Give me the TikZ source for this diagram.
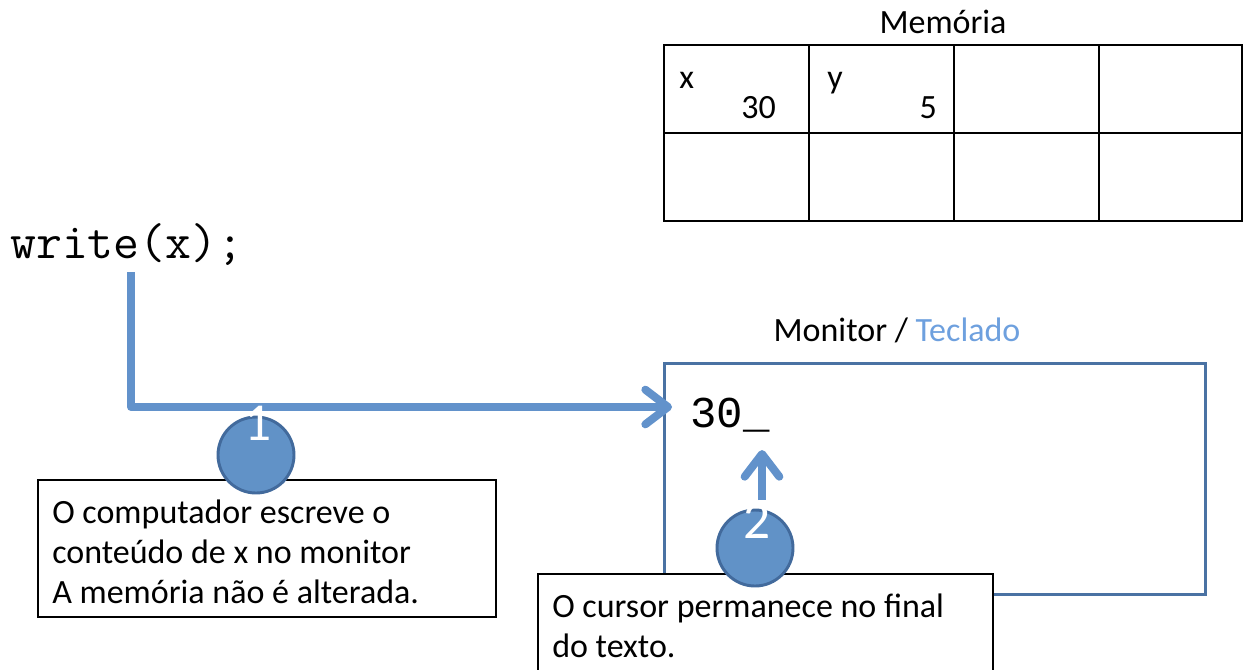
\documentclass[tikz,border=0pt]{standalone}
\usepackage{fontspec}
\setmainfont{Carlito}
\newfontfamily\codefont{Liberation Mono}
\usetikzlibrary{arrows.meta}
\definecolor{flowblue}{RGB}{98,146,203}
\definecolor{dotblue}{RGB}{97,146,199}
\definecolor{dotedge}{RGB}{66,106,156}
\definecolor{monblue}{RGB}{74,114,163}
\definecolor{keyblue}{RGB}{110,160,222}
\tikzset{
  flow/.style={draw=flowblue, line width=6pt, line join=round,
    -{Straight Barb[length=17pt,width=26pt,round]}},
  notebox/.style={draw=black, line width=1.5pt, fill=white},
  notetext/.style={anchor=north west, align=left},
  stepdot/.style={circle, fill=dotblue, draw=dotedge, line width=2.2pt,
    minimum size=57pt},
  stepnum/.style={text=white, font=\fontsize{40}{40}\selectfont},
  codetext/.style={font=\codefont\fontsize{33}{33}\selectfont},
}
\begin{document}
\begin{tikzpicture}[x=0.75pt,y=-0.75pt,font=\fontsize{25.5}{30}\selectfont,
  every node/.style={inner sep=0pt}]
\useasboundingbox (0,0) rectangle (1244,669);
% memoria
\node[anchor=base] (memlabel) at (943,33) {Memória};
\draw[line width=1.5pt] (664,45) rectangle (1242,221);
\draw[line width=1.5pt] (664,133) -- (1242,133);
\draw[line width=1.5pt] (809,45) -- (809,221);
\draw[line width=1.5pt] (954,45) -- (954,221);
\draw[line width=1.5pt] (1099,45) -- (1099,221);
\node[anchor=base west] (xname) at (679,88) {x};
\node[anchor=base east] (xval) at (776,118) {30};
\node[anchor=base west] (yname) at (827,88) {y};
\node[anchor=base east] (yval) at (937,118) {5};
% monitor
\node[anchor=base] (monlabel) at (897,341) {Monitor / \textcolor{keyblue}{Teclado}};
\draw[monblue, line width=2.25pt] (664,363) rectangle (1205,594);
\node[codetext, anchor=base west] (screen) at (690,427) {30\_};
\node[font=\ttfamily\fontsize{37.7}{38}\selectfont, anchor=base west] (code) at (10,258) {write(x);};
% setas
\coordinate (wdrop) at (131,272);
\coordinate (monin) at (672,407);
\draw[flow] (wdrop) |- (monin);
\coordinate (c2top) at (762,500);
\coordinate (cursor) at (762,450);
\draw[flow] (c2top) -- (cursor);
% notas
\draw[notebox] (38,480) rectangle (496,617);
\node[notetext] (note1) at (52,500) {O computador escreve o\\conteúdo de x no monitor\\A memória não é alterada.};
\draw[notebox] (538,574) rectangle (993,690);
\node[notetext] (note2) at (552,594) {O cursor permanece no final\\do texto.};
% passos
\node[stepdot] (dot1) at (256,455) {};
\node[stepnum] (num1) at (258,423) {1};
\node[stepdot] (dot2) at (755,548) {};
\node[stepnum] (num2) at (757,521) {2};
\end{tikzpicture}
\end{document}
